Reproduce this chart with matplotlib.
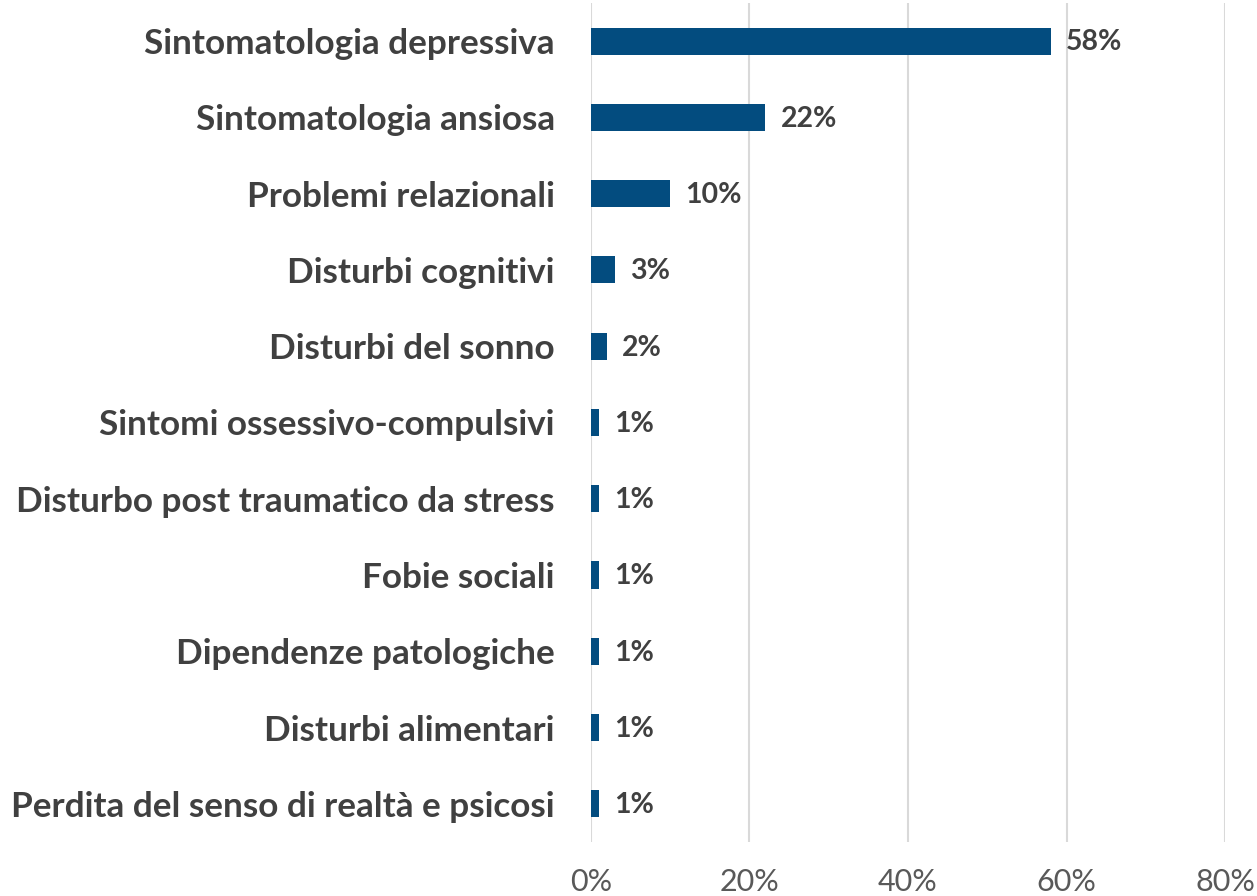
import matplotlib.pyplot as plt
from matplotlib.ticker import FuncFormatter

categories = [
    "Sintomatologia depressiva",
    "Sintomatologia ansiosa",
    "Problemi relazionali",
    "Disturbi cognitivi",
    "Disturbi del sonno",
    "Sintomi ossessivo-compulsivi",
    "Disturbo post traumatico da stress",
    "Fobie sociali",
    "Dipendenze patologiche",
    "Disturbi alimentari",
    "Perdita del senso di realtà e psicosi",
]
values = [58, 22, 10, 3, 2, 1, 1, 1, 1, 1, 1]
x_ticks = [0, 20, 40, 60, 80]

plt.rcParams["font.family"] = ["Lato", "DejaVu Sans"]

fig = plt.figure(figsize=(12.57, 8.96), dpi=100)
ax = fig.add_axes([0.470, 0.0603, 0.5046, 0.9364])

pos = list(range(len(categories)))
ax.barh(pos, values, height=0.355, color="#034C7F", zorder=3)

for y, v in zip(pos, values):
    ax.annotate(f"{v}%", (v, y), xytext=(11, -1), textcoords="offset points",
                va="center", ha="left", fontsize=20.5, fontweight="bold",
                color="#404040")

ax.set_xlim(0, 80)
ax.set_ylim(len(categories) - 0.5, -0.5)
ax.set_xticks(x_ticks)
ax.xaxis.set_major_formatter(FuncFormatter(lambda v, _: f"{v:.0f}%"))
ax.set_yticks(pos)
ax.set_yticklabels(categories, fontsize=25.3, fontweight="bold", color="#404040")
ax.tick_params(axis="y", length=0, pad=26)
ax.tick_params(axis="x", length=0, pad=19, labelsize=22, labelcolor="#595959")
ax.grid(axis="x", color="#D9D9D9", linewidth=1.5, zorder=0)
for s in ax.spines.values():
    s.set_visible(False)

fig.savefig("out.png", dpi=100)
